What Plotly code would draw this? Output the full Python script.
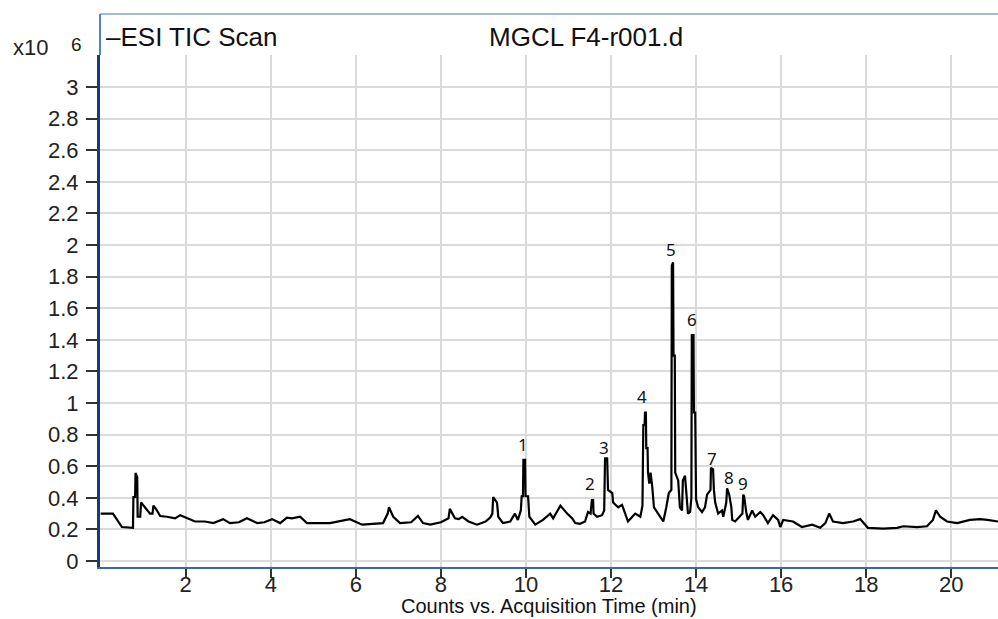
import plotly.graph_objects as go

# Acquisition time (min) and TIC counts (x10^6)
time_min = [0.00, 0.29, 0.50, 0.76, 0.77, 0.81, 0.82, 0.86, 0.87, 0.93, 0.95, 1.05, 1.16, 1.22, 1.24, 1.30,
            1.40, 1.56, 1.75, 1.87, 2.03, 2.22, 2.45, 2.65, 2.88, 3.04, 3.25, 3.44, 3.68, 3.85, 4.03, 4.22,
            4.38, 4.50, 4.69, 4.85, 5.39, 5.86, 6.15, 6.64, 6.75, 6.78, 6.88, 7.04, 7.30, 7.46, 7.58, 7.75,
            8.00, 8.18, 8.21, 8.33, 8.42, 8.50, 8.65, 8.85, 9.05, 9.16, 9.21, 9.23, 9.32, 9.35, 9.46, 9.63,
            9.74, 9.81, 9.88, 9.90, 9.93, 9.94, 9.98, 9.99, 10.05, 10.08, 10.22, 10.40, 10.57, 10.64, 10.81,
            10.90, 10.97, 11.09, 11.16, 11.27, 11.39, 11.46, 11.52, 11.55, 11.58, 11.59, 11.67, 11.79, 11.84,
            11.86, 11.91, 11.93, 12.03, 12.05, 12.17, 12.26, 12.33, 12.40, 12.50, 12.57, 12.69, 12.74, 12.76,
            12.79, 12.80, 12.82, 12.83, 12.86, 12.87, 12.90, 12.93, 12.97, 13.01, 13.08, 13.15, 13.23, 13.30,
            13.36, 13.42, 13.43, 13.46, 13.47, 13.50, 13.51, 13.58, 13.62, 13.67, 13.69, 13.74, 13.77, 13.81,
            13.86, 13.89, 13.90, 13.94, 13.95, 13.98, 14.00, 14.05, 14.14, 14.21, 14.26, 14.30, 14.34, 14.35,
            14.40, 14.42, 14.45, 14.52, 14.61, 14.64, 14.71, 14.73, 14.78, 14.83, 14.85, 14.92, 15.04, 15.09,
            15.11, 15.13, 15.18, 15.22, 15.32, 15.39, 15.51, 15.58, 15.69, 15.81, 15.93, 15.98, 16.05, 16.28,
            16.49, 16.73, 16.92, 17.04, 17.13, 17.22, 17.46, 17.69, 17.86, 18.04, 18.40, 18.73, 18.87, 19.20,
            19.43, 19.57, 19.64, 19.74, 19.90, 20.14, 20.44, 20.68, 20.85, 21.10]
counts = [0.30, 0.30, 0.215, 0.21, 0.405, 0.405, 0.557, 0.53, 0.28, 0.28, 0.37, 0.34, 0.30, 0.30, 0.35, 0.33,
          0.285, 0.28, 0.27, 0.29, 0.27, 0.25, 0.25, 0.24, 0.265, 0.24, 0.245, 0.27, 0.24, 0.245, 0.265, 0.24,
          0.275, 0.27, 0.28, 0.24, 0.24, 0.265, 0.23, 0.24, 0.30, 0.34, 0.28, 0.24, 0.245, 0.285, 0.24, 0.23,
          0.245, 0.27, 0.33, 0.27, 0.265, 0.28, 0.25, 0.23, 0.25, 0.275, 0.30, 0.405, 0.37, 0.28, 0.24, 0.25,
          0.30, 0.26, 0.32, 0.41, 0.41, 0.64, 0.64, 0.41, 0.41, 0.28, 0.23, 0.26, 0.30, 0.27, 0.35,
          0.32, 0.30, 0.27, 0.24, 0.235, 0.25, 0.31, 0.30, 0.385, 0.385, 0.30, 0.28, 0.29, 0.32,
          0.65, 0.65, 0.45, 0.43, 0.37, 0.34, 0.355, 0.30, 0.25, 0.28, 0.30, 0.28, 0.35, 0.86,
          0.86, 0.94, 0.94, 0.715, 0.715, 0.56, 0.49, 0.56, 0.47, 0.34, 0.31, 0.28, 0.25, 0.34,
          0.43, 0.45, 1.87, 1.89, 1.30, 1.30, 0.56, 0.51, 0.34, 0.32, 0.51, 0.54, 0.41, 0.30,
          0.31, 0.40, 1.43, 1.43, 0.94, 0.94, 0.39, 0.34, 0.31, 0.34, 0.42, 0.44, 0.45, 0.59,
          0.58, 0.45, 0.37, 0.30, 0.32, 0.28, 0.37, 0.46, 0.42, 0.34, 0.26, 0.25, 0.29, 0.30,
          0.42, 0.41, 0.31, 0.26, 0.32, 0.28, 0.31, 0.29, 0.24, 0.29, 0.26, 0.215, 0.26, 0.25,
          0.215, 0.23, 0.21, 0.24, 0.30, 0.25, 0.24, 0.25, 0.265, 0.21, 0.205, 0.21, 0.22, 0.215,
          0.22, 0.26, 0.32, 0.28, 0.25, 0.24, 0.26, 0.265, 0.26, 0.25]

# Peak labels
peak_labels = ["1", "2", "3", "4", "5", "6", "7", "8", "9"]
peak_label_t = [9.93, 11.51, 11.84, 12.73, 13.41, 13.91, 14.38, 14.78, 15.11]
peak_label_v = [0.74, 0.49, 0.72, 1.04, 1.97, 1.53, 0.65, 0.53, 0.49]

x_ticks = [2, 4, 6, 8, 10, 12, 14, 16, 18, 20]
y_ticks = [0, 0.2, 0.4, 0.6, 0.8, 1, 1.2, 1.4, 1.6, 1.8, 2, 2.2, 2.4, 2.6, 2.8, 3]
y_tick_text = ["0", "0.2", "0.4", "0.6", "0.8", "1", "1.2", "1.4", "1.6", "1.8", "2", "2.2", "2.4", "2.6", "2.8", "3"]

FONT = "Liberation Sans, Arial, sans-serif"

fig = go.Figure()
fig.add_trace(go.Scatter(x=time_min, y=counts, mode="lines",
                         line=dict(color="black", width=2.2), hoverinfo="skip", showlegend=False))

for lab, t, v in zip(peak_labels, peak_label_t, peak_label_v):
    fig.add_annotation(x=t, y=v, text=lab, showarrow=False, xanchor="center", yanchor="middle",
                       font=dict(family="Noto Sans, sans-serif", size=17, color="#111"))

# Header texts (paper coords)
fig.add_annotation(xref="paper", yref="paper", x=0.004, y=1.036, text="–ESI TIC Scan", showarrow=False,
                   xanchor="left", yanchor="middle", font=dict(family=FONT, size=26, color="#111"))
fig.add_annotation(xref="paper", yref="paper", x=0.431, y=1.036, text="MGCL F4-r001.d", showarrow=False,
                   xanchor="left", yanchor="middle", font=dict(family=FONT, size=26, color="#111"))
fig.add_annotation(xref="paper", yref="paper", x=-0.099, y=1.014, text="x10", showarrow=False,
                   xanchor="left", yanchor="middle", font=dict(family=FONT, size=22, color="#222"))
fig.add_annotation(xref="paper", yref="paper", x=-0.035, y=1.021, text="6", showarrow=False,
                   xanchor="left", yanchor="middle", font=dict(family=FONT, size=19, color="#222"))
fig.add_annotation(xref="paper", yref="paper", x=0.5, y=-0.1016, text="Counts vs. Acquisition Time (min)",
                   showarrow=False, xanchor="center", yanchor="bottom",
                   font=dict(family=FONT, size=20, color="#111"))

# Frame of header area
fig.add_shape(type="line", xref="paper", yref="paper", x0=0, x1=1, y0=1.080, y1=1.080,
              line=dict(color="#7fa6c8", width=1.5))
fig.add_shape(type="line", xref="paper", yref="paper", x0=0, x1=0, y0=1.0, y1=1.080,
              line=dict(color="#4f86bd", width=2))

fig.update_layout(
    width=998, height=619,
    margin=dict(l=100, r=0, t=55, b=52),
    paper_bgcolor="white", plot_bgcolor="white",
    showlegend=False,
    xaxis=dict(range=[-0.0155, 21.10], tickvals=x_ticks, ticks="outside", ticklen=9, tickwidth=2,
               tickcolor="#333", showgrid=True, gridcolor="#dadada", gridwidth=2, zeroline=False,
               showline=True, linecolor="#3b6aa0", linewidth=2, ticklabelstandoff=-12,
               tickfont=dict(family=FONT, size=22, color="#222")),
    yaxis=dict(range=[-0.038, 3.203], tickvals=y_ticks, ticktext=y_tick_text, ticks="outside", ticklen=11,
               tickwidth=2, tickcolor="#333", showgrid=True, gridcolor="#dadada", gridwidth=2,
               zeroline=False, showline=True, linecolor="#1b3a78", linewidth=3,
               ticklabelstandoff=3, tickfont=dict(family=FONT, size=22, color="#222")),
)

fig.write_html("out.html", config={"displayModeBar": False},
               post_script="document.body.style.margin='0';")
